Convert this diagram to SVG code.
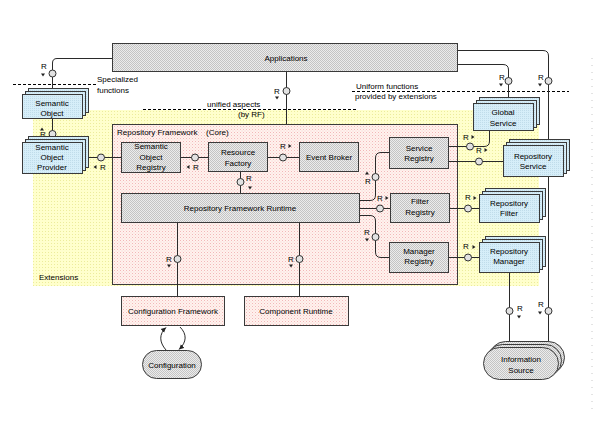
<svg xmlns="http://www.w3.org/2000/svg" width="593" height="445" viewBox="0 0 593 445">
<defs>
<pattern id="grey" width="2" height="2" patternUnits="userSpaceOnUse"><rect width="2" height="2" fill="#ececec"/><rect width="1" height="1" fill="#c4c4c4"/><rect x="1" y="1" width="1" height="1" fill="#c4c4c4"/></pattern>
<pattern id="blue" width="2" height="2" patternUnits="userSpaceOnUse"><rect width="2" height="2" fill="#d6eef9"/><rect width="1" height="1" fill="#c0dcea"/></pattern>
<pattern id="yellow" width="3" height="3" patternUnits="userSpaceOnUse"><rect width="3" height="3" fill="#ffffcc"/><rect width="1" height="1" fill="#ecec9c"/></pattern>
<pattern id="pink" width="3" height="3" patternUnits="userSpaceOnUse"><rect width="3" height="3" fill="#fff2ee"/><rect width="1" height="1" fill="#f2b8b8"/><rect x="1.5" y="1.5" width="1" height="1" fill="#f8d4d0"/></pattern>
<polygon id="td" points="-2,-1.5 2,-1.5 0,1.5" fill="#222"/>
<polygon id="tu" points="-2,1.5 2,1.5 0,-1.5" fill="#222"/>
<polygon id="tl" points="1.5,-2 1.5,2 -1.5,0" fill="#222"/>
<polygon id="tr" points="-1.5,-2 -1.5,2 1.5,0" fill="#222"/>
<marker id="ah" markerWidth="6" markerHeight="6" refX="5" refY="3" orient="auto" markerUnits="userSpaceOnUse"><path d="M0,0.5 L5,3 L0,5.5 z" fill="#222"/></marker>
</defs>
<style>
text{font-family:"Liberation Sans",Arial,sans-serif;font-size:8px;fill:#000}
.c{text-anchor:middle}
.box{stroke:#3a3a3a;stroke-width:1}
.g{fill:url(#grey)}
.b{fill:url(#blue)}
.p{fill:url(#pink)}
.ln{fill:none;stroke:#2a2a2a;stroke-width:1}
.dash{fill:none;stroke:#000;stroke-width:1;stroke-dasharray:3 2}
.lp{fill:#e2e2e2;stroke:#333;stroke-width:1}
</style>

<g id="background">
<rect x="33" y="110" width="506" height="176" fill="url(#yellow)"/>
<line x1="592" y1="58" x2="592" y2="410" stroke="#c8c8c8" stroke-dasharray="1 6"/>
</g>

<g id="repository-framework">
<rect class="box p" x="112.5" y="124.5" width="345" height="160"/>
<text x="117" y="135">Repository Framework <tspan x="206">(Core)</tspan></text>
</g>

<g id="annotations">
<line class="dash" x1="13" y1="84.5" x2="98" y2="84.5"/>
<text x="97" y="82">Specialized</text>
<text x="97" y="93">functions</text>
<line class="dash" x1="143" y1="109.5" x2="358" y2="109.5"/>
<text x="207" y="107">unified aspects</text>
<text x="238" y="117">(by RF)</text>
<line class="dash" x1="352" y1="91.5" x2="569" y2="91.5"/>
<text x="356" y="89">Uniform functions</text>
<text x="355" y="99">provided by extensions</text>
<text x="39" y="280">Extensions</text>
</g>

<g id="connectors">
<path class="ln" d="M112,58.5 H57 Q52.5,58.5 52.5,63 V90"/>
<path class="ln" d="M52.5,118 V142"/>
<path class="ln" d="M82,157.5 H121"/>
<path class="ln" d="M181,157.5 H208"/>
<path class="ln" d="M268,157.5 H299"/>
<path class="ln" d="M240.5,172 V193"/>
<path class="ln" d="M286.5,72 V124"/>
<path class="ln" d="M177.5,223 V296"/>
<path class="ln" d="M299.5,223 V296"/>
<path class="ln" d="M360,200.5 H370 Q375.5,200.5 375.5,195 V158 Q375.5,152.5 381,152.5 H389"/>
<path class="ln" d="M360,208.5 H390"/>
<path class="ln" d="M360,215.5 H370 Q375.5,215.5 375.5,221 V252 Q375.5,257.5 381,257.5 H389"/>
<path class="ln" d="M449,146.5 H484 Q489.5,146.5 489.5,141 V130"/>
<path class="ln" d="M449,161.5 H503"/>
<path class="ln" d="M450,208.5 H479"/>
<path class="ln" d="M449,257.5 H479"/>
<path class="ln" d="M458,64.5 H503 Q508.5,64.5 508.5,70 V100"/>
<path class="ln" d="M458,50.5 H543 Q548.5,50.5 548.5,56 V345"/>
<path class="ln" d="M509.5,272 V347"/>
<path class="ln" d="M166,350 C159,342 159,334 166,327.5" marker-end="url(#ah)"/>
<path class="ln" d="M180,327 C187,334 187,342 179,349.5" marker-end="url(#ah)"/>
<circle class="lp" cx="52.5" cy="73.5" r="3.5"/>
<circle class="lp" cx="52.5" cy="134" r="3.5"/>
<circle class="lp" cx="101" cy="157.5" r="3.5"/>
<circle class="lp" cx="195" cy="157.5" r="3.5"/>
<circle class="lp" cx="283" cy="157.5" r="3.5"/>
<circle class="lp" cx="240.5" cy="182" r="3.5"/>
<circle class="lp" cx="286.5" cy="91" r="3.5"/>
<circle class="lp" cx="177.5" cy="259" r="3.5"/>
<circle class="lp" cx="299.5" cy="259" r="3.5"/>
<circle class="lp" cx="375.5" cy="177" r="3.5"/>
<circle class="lp" cx="380" cy="208.5" r="3.5"/>
<circle class="lp" cx="375.5" cy="237" r="3.5"/>
<circle class="lp" cx="470" cy="146.5" r="3.5"/>
<circle class="lp" cx="479" cy="161.5" r="3.5"/>
<circle class="lp" cx="468" cy="208.5" r="3.5"/>
<circle class="lp" cx="468" cy="257.5" r="3.5"/>
<circle class="lp" cx="508.5" cy="81" r="3.5"/>
<circle class="lp" cx="548.5" cy="81" r="3.5"/>
<circle class="lp" cx="509.5" cy="311" r="3.5"/>
<circle class="lp" cx="548.5" cy="311" r="3.5"/>
<text x="41" y="69">R</text><use href="#td" x="43" y="75"/>
<text x="40" y="137">R</text><use href="#tu" x="42" y="129"/>
<text x="100" y="170">R</text><use href="#tl" x="95" y="167"/>
<text x="193" y="170">R</text><use href="#tl" x="188" y="167"/>
<text x="280" y="149">R</text><use href="#tr" x="290" y="146"/>
<text x="246" y="181">R</text><use href="#td" x="250" y="188"/>
<text x="274" y="94">R</text><use href="#td" x="277" y="98"/>
<text x="166" y="262">R</text><use href="#td" x="169" y="266"/>
<text x="288" y="262">R</text><use href="#td" x="291" y="266"/>
<text x="365" y="184">R</text><use href="#tu" x="367" y="173"/>
<text x="377" y="201">R</text><use href="#tr" x="387" y="198"/>
<text x="364" y="235">R</text><use href="#td" x="367" y="240"/>
<text x="463" y="140">R</text><use href="#tr" x="473" y="137"/>
<text x="476" y="153">R</text><use href="#tr" x="486" y="150"/>
<text x="465" y="200">R</text><use href="#tr" x="475" y="198"/>
<text x="463" y="249">R</text><use href="#tr" x="474" y="247"/>
<text x="499" y="80">R</text><use href="#td" x="501" y="85"/>
<text x="538" y="80">R</text><use href="#td" x="540" y="85"/>
<text x="517" y="311">R</text><use href="#td" x="519" y="317"/>
<text x="538" y="307">R</text><use href="#td" x="540" y="313"/>
</g>

<g id="applications">
<rect class="box g" x="112.5" y="43.5" width="345" height="28"/>
<text class="c" x="286" y="61">Applications</text>
</g>

<g id="semantic-object">
<rect class="box b" x="28.5" y="88.5" width="60" height="24"/>
<rect class="box b" x="25.5" y="91.5" width="60" height="24"/>
<rect class="box b" x="22.5" y="94.5" width="60" height="24"/>
<text class="c" x="52" y="106">Semantic</text>
<text class="c" x="52" y="116">Object</text>
</g>

<g id="semantic-object-provider">
<rect class="box b" x="28.5" y="136.5" width="60" height="31"/>
<rect class="box b" x="25.5" y="139.5" width="60" height="31"/>
<rect class="box b" x="22.5" y="142.5" width="60" height="31"/>
<text class="c" x="52" y="150">Semantic</text>
<text class="c" x="52" y="160">Object</text>
<text class="c" x="52" y="170">Provider</text>
</g>

<g id="semantic-object-registry">
<rect class="box g" x="121.5" y="142.5" width="59" height="30"/>
<text class="c" x="151" y="149">Semantic</text>
<text class="c" x="151" y="160">Object</text>
<text class="c" x="151" y="170">Registry</text>
</g>

<g id="resource-factory">
<rect class="box g" x="208.5" y="142.5" width="59" height="29"/>
<text class="c" x="238" y="155">Resource</text>
<text class="c" x="238" y="166">Factory</text>
</g>

<g id="event-broker">
<rect class="box g" x="299.5" y="142.5" width="59" height="29"/>
<text class="c" x="329" y="160">Event Broker</text>
</g>

<g id="runtime">
<rect class="box g" x="121.5" y="193.5" width="238" height="29"/>
<text class="c" x="240" y="211">Repository Framework Runtime</text>
</g>

<g id="service-registry">
<rect class="box g" x="389.5" y="137.5" width="59" height="31"/>
<text class="c" x="419" y="151">Service</text>
<text class="c" x="419" y="161">Registry</text>
</g>

<g id="filter-registry">
<rect class="box g" x="390.5" y="193.5" width="59" height="29"/>
<text class="c" x="420" y="204">Filter</text>
<text class="c" x="420" y="215">Registry</text>
</g>

<g id="manager-registry">
<rect class="box g" x="389.5" y="242.5" width="59" height="30"/>
<text class="c" x="419" y="254">Manager</text>
<text class="c" x="419" y="264">Registry</text>
</g>

<g id="global-service">
<rect class="box b" x="479.5" y="97.5" width="60" height="27"/>
<rect class="box b" x="476.5" y="100.5" width="60" height="27"/>
<rect class="box b" x="473.5" y="103.5" width="60" height="27"/>
<text class="c" x="503" y="115">Global</text>
<text class="c" x="503" y="126">Service</text>
</g>

<g id="repository-service">
<rect class="box b" x="509.5" y="139.5" width="60" height="31"/>
<rect class="box b" x="506.5" y="142.5" width="60" height="31"/>
<rect class="box b" x="503.5" y="145.5" width="60" height="31"/>
<text class="c" x="533" y="159">Repository</text>
<text class="c" x="533" y="169">Service</text>
</g>

<g id="repository-filter">
<rect class="box b" x="485.5" y="188.5" width="60" height="28"/>
<rect class="box b" x="482.5" y="191.5" width="60" height="28"/>
<rect class="box b" x="479.5" y="194.5" width="60" height="28"/>
<text class="c" x="509" y="206">Repository</text>
<text class="c" x="509" y="216">Filter</text>
</g>

<g id="repository-manager">
<rect class="box b" x="485.5" y="236.5" width="60" height="30"/>
<rect class="box b" x="482.5" y="239.5" width="60" height="30"/>
<rect class="box b" x="479.5" y="242.5" width="60" height="30"/>
<text class="c" x="509" y="254">Repository</text>
<text class="c" x="509" y="264">Manager</text>
</g>

<g id="configuration-framework">
<rect class="box p" x="121.5" y="296.5" width="103" height="29"/>
<text class="c" x="173" y="314">Configuration Framework</text>
</g>

<g id="component-runtime">
<rect class="box p" x="244.5" y="296.5" width="104" height="29"/>
<text class="c" x="296" y="314">Component Runtime</text>
</g>

<g id="configuration">
<rect class="box g" x="142.5" y="350.5" width="59" height="28" rx="14" ry="14"/>
<text class="c" x="172" y="368">Configuration</text>
</g>

<g id="information-source">
<rect class="box g" x="489.5" y="341.5" width="75" height="32" rx="16" ry="16"/>
<rect class="box g" x="486.5" y="344.5" width="75" height="32" rx="16" ry="16"/>
<rect class="box g" x="483.5" y="347.5" width="75" height="32" rx="16" ry="16"/>
<text class="c" x="521" y="362">Information</text>
<text class="c" x="521" y="373">Source</text>
</g>
</svg>
